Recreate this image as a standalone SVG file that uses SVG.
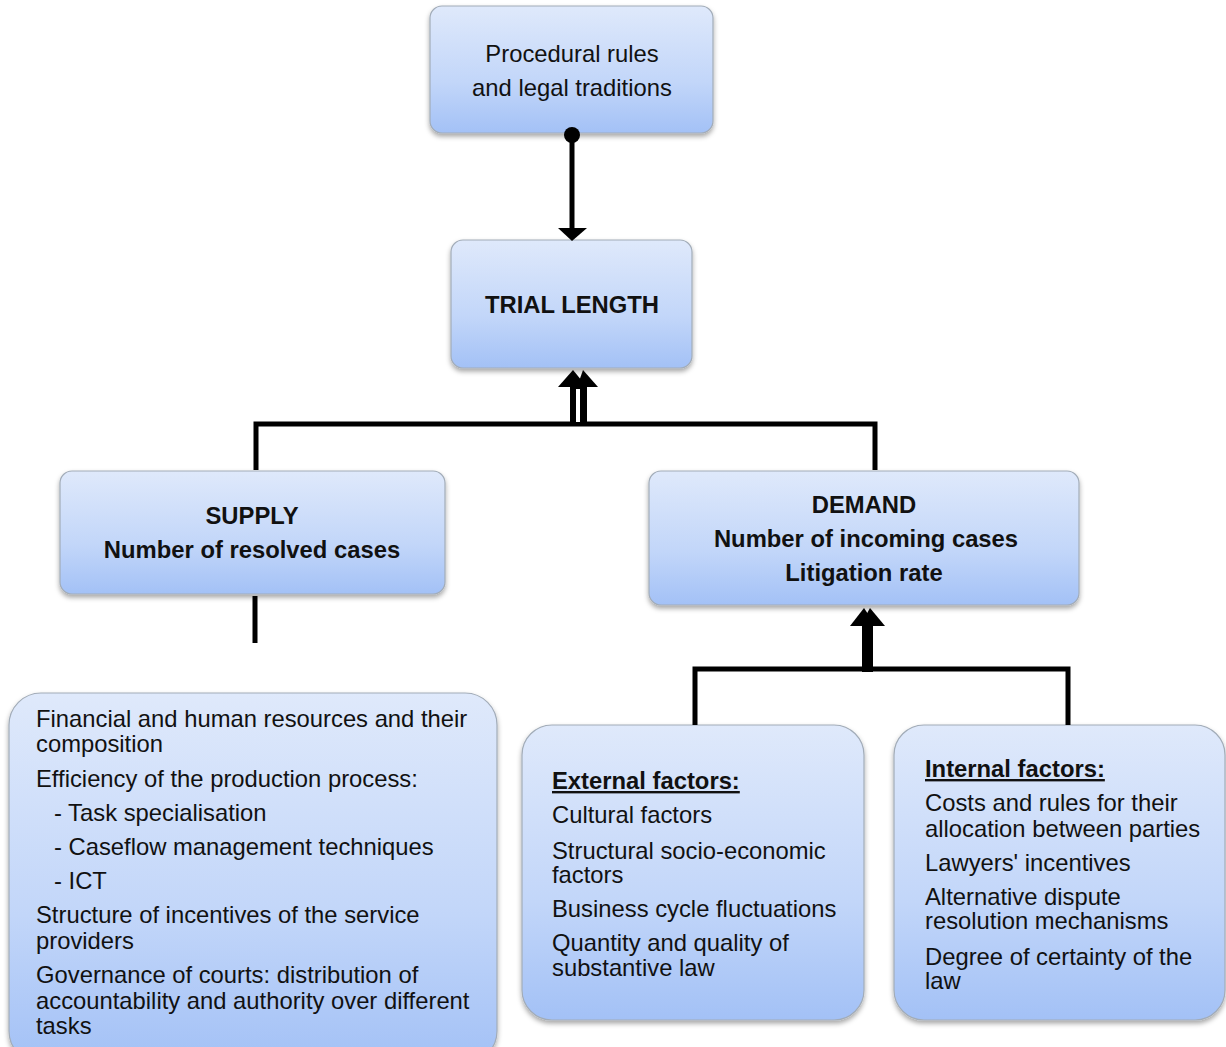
<svg xmlns="http://www.w3.org/2000/svg" width="1226" height="1047" viewBox="0 0 1226 1047">
<defs>
<linearGradient id="g" x1="0" y1="0" x2="0" y2="1">
<stop offset="0" stop-color="#dfe9fb"/>
<stop offset="0.6" stop-color="#c2d6f9"/>
<stop offset="1" stop-color="#a3c1f6"/>
</linearGradient>
<filter id="sh" x="-10%" y="-10%" width="120%" height="130%">
<feDropShadow dx="0" dy="3" stdDeviation="2.5" flood-color="#000" flood-opacity="0.35"/>
</filter>
</defs>
<style>
.box{fill:url(#g);stroke:#a2acb8;stroke-width:1.2;filter:url(#sh)}
.t{font-family:"Liberation Sans",Arial,sans-serif;font-size:23.8px;fill:#111}
.b{font-weight:bold}
.c{text-anchor:middle}
.ln{stroke:#000;stroke-width:5;fill:none}
</style>
<g id="procedural">
<rect class="box" x="430" y="6" width="283" height="127" rx="12"/>
<text class="t c" x="572" y="62">Procedural rules</text>
<text class="t c" x="572" y="96">and legal traditions</text>
</g>
<g id="trial">
<rect class="box" x="451" y="240" width="241" height="128" rx="12"/>
<text class="t b c" x="572" y="313">TRIAL LENGTH</text>
</g>
<g id="supply">
<rect class="box" x="60" y="471" width="385" height="123" rx="12"/>
<text class="t b c" x="252" y="524">SUPPLY</text>
<text class="t b c" x="252" y="558">Number of resolved cases</text>
</g>
<g id="demand">
<rect class="box" x="649" y="471" width="430" height="134" rx="12"/>
<text class="t b c" x="864" y="513">DEMAND</text>
<text class="t b c" x="866" y="547">Number of incoming cases</text>
<text class="t b c" x="864" y="581">Litigation rate</text>
</g>
<g id="supply-factors">
<rect class="box" x="9" y="693" width="488" height="370" rx="32"/>
<text class="t" x="36" y="727">Financial and human resources and their</text>
<text class="t" x="36" y="752">composition</text>
<text class="t" x="36" y="787">Efficiency of the production process:</text>
<text class="t" x="54" y="821">- Task specialisation</text>
<text class="t" x="54" y="855">- Caseflow management techniques</text>
<text class="t" x="54" y="889">- ICT</text>
<text class="t" x="36" y="923">Structure of incentives of the service</text>
<text class="t" x="36" y="949">providers</text>
<text class="t" x="36" y="983">Governance of courts: distribution of</text>
<text class="t" x="36" y="1009">accountability and authority over different</text>
<text class="t" x="36" y="1034">tasks</text>
</g>
<g id="external">
<rect class="box" x="522" y="725" width="342" height="295" rx="30"/>
<text class="t b" x="552" y="789" text-decoration="underline">External factors:</text>
<text class="t" x="552" y="823">Cultural factors</text>
<text class="t" x="552" y="859">Structural socio-economic</text>
<text class="t" x="552" y="883">factors</text>
<text class="t" x="552" y="917">Business cycle fluctuations</text>
<text class="t" x="552" y="951">Quantity and quality of</text>
<text class="t" x="552" y="976">substantive law</text>
</g>
<g id="internal">
<rect class="box" x="894" y="725" width="331" height="295" rx="30"/>
<text class="t b" x="925" y="777" text-decoration="underline">Internal factors:</text>
<text class="t" x="925" y="811">Costs and rules for their</text>
<text class="t" x="925" y="837">allocation between parties</text>
<text class="t" x="925" y="871">Lawyers' incentives</text>
<text class="t" x="925" y="905">Alternative dispute</text>
<text class="t" x="925" y="929">resolution mechanisms</text>
<text class="t" x="925" y="965">Degree of certainty of the</text>
<text class="t" x="925" y="989">law</text>
</g>
<g id="connectors">
<circle cx="572" cy="135" r="8" fill="#000"/>
<line class="ln" x1="572" y1="135" x2="572" y2="230"/>
<polygon points="558,228 587,228 572,241" fill="#000"/>
<polyline class="ln" points="256,470 256,424 875,424 875,470"/>
<rect x="570" y="385" width="17" height="40" fill="#000"/>
<rect x="576" y="389" width="4" height="33" fill="#fff"/>
<polygon points="558,387 587,387 573,370" fill="#000"/>
<polygon points="577,387 598,387 583,370" fill="#000"/>
<line class="ln" x1="255" y1="596" x2="255" y2="643"/>
<polyline class="ln" points="695,725 695,669 1068,669 1068,725"/>
<rect x="862" y="620" width="11" height="52" fill="#000"/>
<polygon points="850,626 876,626 864,608" fill="#000"/>
<polygon points="860,626 885,626 870,608" fill="#000"/>
</g>
</svg>
